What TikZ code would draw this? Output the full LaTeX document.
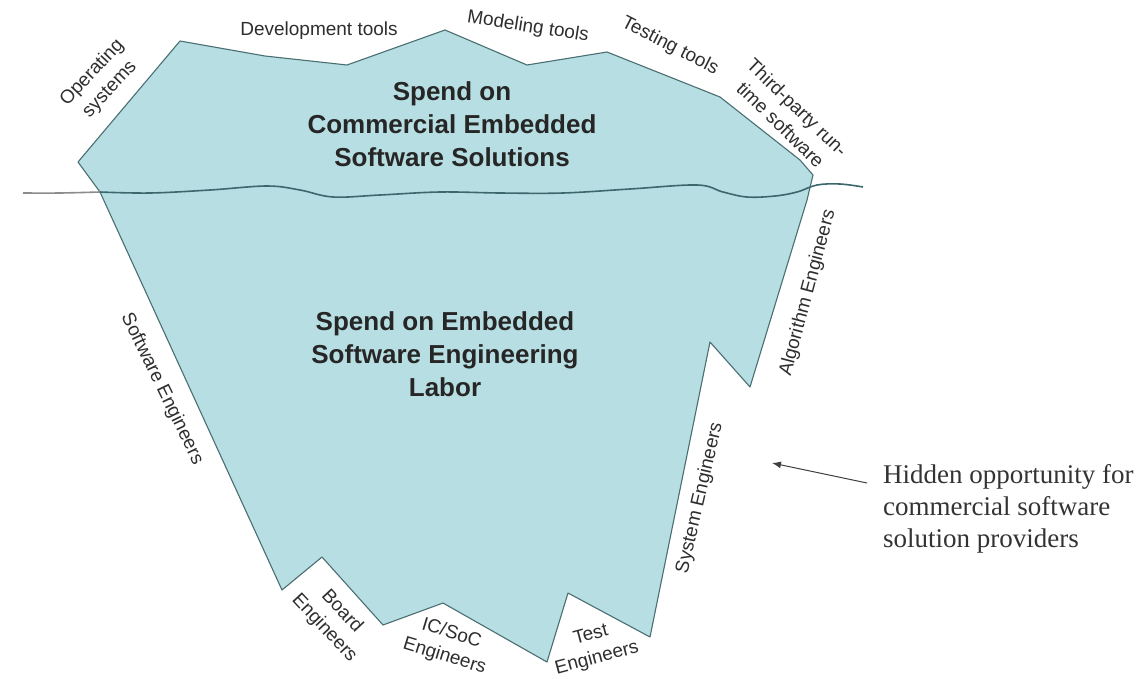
\documentclass[tikz,border=0pt]{standalone}
\usepackage{fontspec}
\setmainfont{Liberation Serif}
\setsansfont{Liberation Sans}
\usetikzlibrary{arrows.meta}

\definecolor{bergfill}{HTML}{B7DEE2}
\definecolor{bergline}{HTML}{4A6E72}
\definecolor{waterline}{HTML}{3B676D}
\definecolor{labelgray}{HTML}{2E2E2E}

\tikzset{
  berg/.style={fill=bergfill, draw=bergline, line width=1.1pt, line join=round},
  water/.style={draw=waterline, line width=1.6pt},
  pointer/.style={-{Latex[length=9pt,width=7pt]}, line width=1pt, draw=black!75}
}

\begin{document}
\begin{tikzpicture}[x=1pt,y=-1pt]
  \useasboundingbox (0,0) rectangle (1138,678);

  % the iceberg
  \draw[berg] (78,162) -- (180,41) -- (265,56) -- (347,65) -- (445,30)
    -- (527,65) -- (607,52) -- (720,97) -- (800,160) -- (813,175)
    -- (807,200) -- (750,387) -- (710,342) -- (650,637) -- (568,593)
    -- (547,662) -- (443,603) -- (383,625) -- (322,557) -- (282,590)
    -- (100,192) -- cycle;

  % the waterline
  \draw[water, draw=black!45] plot[smooth, tension=0.6] coordinates
    {(23,193) (60,193) (100,192)};
  \draw[water] plot[smooth, tension=0.6] coordinates
    {(100,192) (150,193) (210,190) (267,186) (300,190) (333,197) (380,195)
     (440,192) (500,193) (563,193) (630,189) (697,185) (723,192) (747,197)
     (775,196) (797,192) (817,185) (840,184) (863,187)};

  \begin{scope}[every node/.style={font=\sffamily\bfseries\fontsize{26}{33}\selectfont, align=center, text=black!85}]
    \node (above) at (452,124) {Spend on\\Commercial Embedded\\Software Solutions};
    \node (below) at (445,354) {Spend on Embedded\\Software Engineering\\Labor};
  \end{scope}

  \begin{scope}[every node/.style={font=\sffamily\fontsize{19}{24}\selectfont, align=center, text=labelgray, inner sep=0pt}]
    \node[rotate=47]  (os)     at (101,81)  {Operating\\systems};
    \node             (devt)   at (319,31)  {Development tools};
    \node[rotate=-9]  (modt)   at (528,27)  {Modeling tools};
    \node[rotate=-27] (testt)  at (670,46)  {Testing tools};
    \node[rotate=-44] (runt)   at (789,116) {Third-party run-\\time software};
    \node[rotate=75]  (algo)   at (808,293) {Algorithm Engineers};
    \node[rotate=77]  (syse)   at (700,498) {System Engineers};
    \node[rotate=15]  (teste)  at (594,647) {Test\\Engineers};
    \node[rotate=-17] (soce)   at (448,645) {IC/SoC\\Engineers};
    \node[rotate=-47] (boarde) at (333,620) {Board\\Engineers};
    \node[rotate=-64] (swe)    at (162,389) {Software Engineers};
  \end{scope}

  \node[font=\fontsize{27}{32}\selectfont, align=left, anchor=north west, inner sep=0pt, text=black!80]
    (hidden) at (883,464) {Hidden opportunity for\\commercial software\\solution providers};
  \coordinate (tip) at (772,463);
  \draw[pointer] ([xshift=-16pt,yshift=-19pt]hidden.north west) -- (tip);

\end{tikzpicture}
\end{document}
